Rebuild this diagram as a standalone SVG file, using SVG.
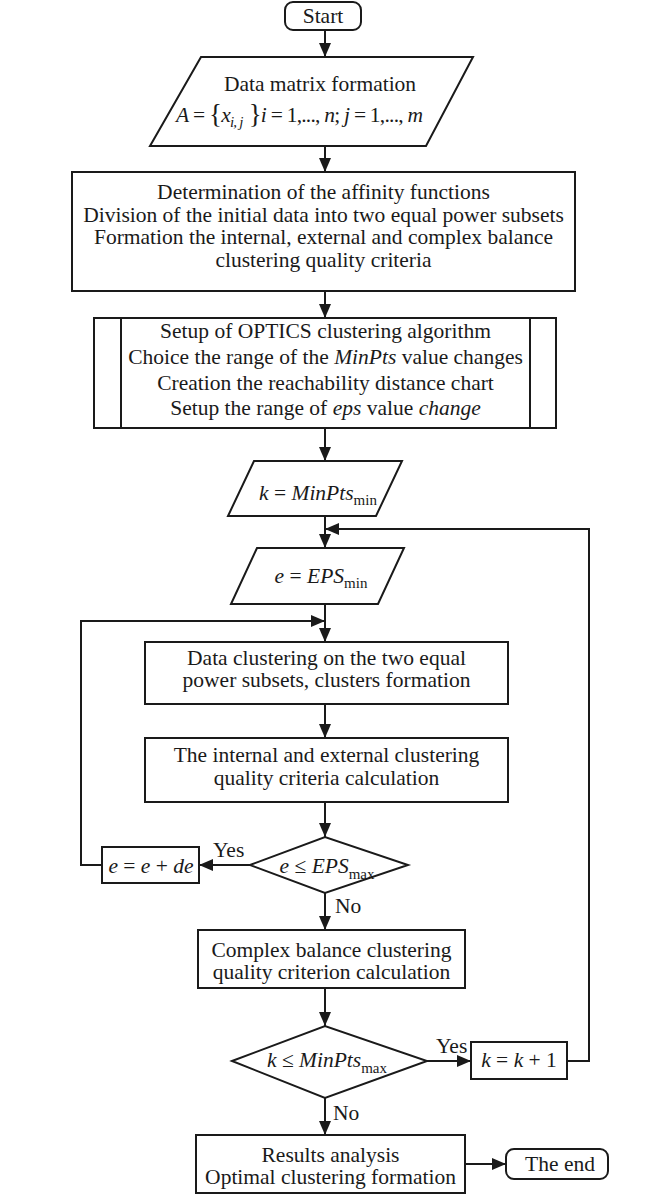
<svg xmlns="http://www.w3.org/2000/svg" width="647" height="1204" viewBox="0 0 647 1204">
<defs>
<marker id="ah" markerWidth="14" markerHeight="12" refX="14" refY="6" orient="auto" markerUnits="userSpaceOnUse"><path d="M0,0 L14,6 L0,12 z" fill="#1a1a1a"/></marker>
<style>
.s{fill:#fff;stroke:#1a1a1a;stroke-width:2}
.t{font-family:"Liberation Serif","Times New Roman",serif;font-size:21.5px;fill:#1a1a1a;text-anchor:middle}
.l{text-anchor:start}
.i{font-style:italic}
.sub{font-size:15px}
.c{fill:none;stroke:#1a1a1a;stroke-width:2;marker-end:url(#ah)}
</style>
</defs>
<rect width="647" height="1204" fill="#fff"/>
<g id="connectors">
<line class="c" x1="325" y1="30" x2="325" y2="57"/>
<line class="c" x1="325" y1="146" x2="325" y2="172"/>
<line class="c" x1="325" y1="291" x2="325" y2="318"/>
<line class="c" x1="325" y1="428" x2="325" y2="461"/>
<line class="c" x1="325" y1="516" x2="325" y2="548"/>
<polyline class="c" points="567,1061 589,1061 589,529 325,529"/>
<line class="c" x1="325" y1="604" x2="325" y2="642"/>
<polyline class="c" points="102,865 81,865 81,621 325,621"/>
<line class="c" x1="325" y1="704" x2="325" y2="738"/>
<line class="c" x1="325" y1="802" x2="325" y2="837"/>
<line class="c" x1="250" y1="865" x2="199" y2="865"/>
<line class="c" x1="325" y1="893" x2="325" y2="930"/>
<line class="c" x1="325" y1="988" x2="325" y2="1026"/>
<line class="c" x1="427" y1="1061" x2="471" y2="1061"/>
<line class="c" x1="325" y1="1098" x2="325" y2="1135"/>
<line class="c" x1="465" y1="1164" x2="506" y2="1164"/>
<text class="t l" x="213" y="857">Yes</text>
<text class="t l" x="335" y="913">No</text>
<text class="t l" x="436" y="1053">Yes</text>
<text class="t l" x="333" y="1120">No</text>
</g>
<g id="start">
<rect class="s" x="285" y="2" width="76" height="28" rx="8"/>
<text class="t" x="323" y="23">Start</text>
</g>
<g id="data-matrix">
<polygon class="s" points="201,57 473,57 426,146 150,146"/>
<text class="t" x="320" y="91">Data matrix formation</text>
<text class="t l" x="176" y="122" textLength="247" lengthAdjust="spacing"><tspan class="i">A</tspan> = <tspan font-size="27" dy="1">{</tspan><tspan class="i" dy="-1">x</tspan><tspan class="i sub" dy="5">i, j</tspan><tspan font-size="27" dy="-4"> }</tspan><tspan class="i" dy="-1">i</tspan> = 1,..., <tspan class="i">n</tspan>; <tspan class="i">j</tspan> = 1,..., <tspan class="i">m</tspan></text>
</g>
<g id="affinity">
<rect class="s" x="72" y="172" width="503" height="119"/>
<text class="t" x="323.5" y="199">Determination of the affinity functions</text>
<text class="t" x="323.5" y="221.5">Division of the initial data into two equal power subsets</text>
<text class="t" x="323.5" y="244">Formation the internal, external and complex balance</text>
<text class="t" x="323.5" y="266.5">clustering quality criteria</text>
</g>
<g id="optics">
<rect class="s" x="94" y="318" width="462" height="110"/>
<line class="s" x1="121" y1="318" x2="121" y2="428"/>
<line class="s" x1="530" y1="318" x2="530" y2="428"/>
<text class="t" x="325.5" y="338">Setup of OPTICS clustering algorithm</text>
<text class="t" x="325.5" y="364">Choice the range of the <tspan class="i">MinPts</tspan> value changes</text>
<text class="t" x="325.5" y="390">Creation the reachability distance chart</text>
<text class="t" x="325.5" y="415">Setup the range of <tspan class="i">eps</tspan> value <tspan class="i">change</tspan></text>
</g>
<g id="k-init">
<polygon class="s" points="254,461 402,461 376,516 228,516"/>
<text class="t" x="318" y="500"><tspan class="i">k</tspan> = <tspan class="i">MinPts</tspan><tspan class="sub" dy="5">min</tspan></text>
</g>
<g id="e-init">
<polygon class="s" points="257,548 404,548 378,604 231,604"/>
<text class="t" x="321" y="583"><tspan class="i">e</tspan> = <tspan class="i">EPS</tspan><tspan class="sub" dy="5">min</tspan></text>
</g>
<g id="clustering">
<rect class="s" x="145" y="642" width="363" height="62"/>
<text class="t" x="326.5" y="665">Data clustering on the two equal</text>
<text class="t" x="326.5" y="687">power subsets, clusters formation</text>
</g>
<g id="internal-external">
<rect class="s" x="145" y="738" width="363" height="64"/>
<text class="t" x="326.5" y="762">The internal and external clustering</text>
<text class="t" x="326.5" y="785">quality criteria calculation</text>
</g>
<g id="eps-check">
<polygon class="s" points="250,865 325,837 408,865 325,893"/>
<text class="t" x="327" y="873"><tspan class="i">e</tspan> ≤ <tspan class="i">EPS</tspan><tspan class="sub" dy="6">max</tspan></text>
</g>
<g id="e-increment">
<rect class="s" x="102" y="847" width="97" height="36"/>
<text class="t" x="151" y="873"><tspan class="i">e</tspan> = <tspan class="i">e</tspan> + <tspan class="i">de</tspan></text>
</g>
<g id="complex">
<rect class="s" x="198" y="930" width="267" height="58"/>
<text class="t" x="331.5" y="957">Complex balance clustering</text>
<text class="t" x="331.5" y="979">quality criterion calculation</text>
</g>
<g id="k-check">
<polygon class="s" points="232,1061 325,1026 427,1061 325,1098"/>
<text class="t" x="327" y="1067"><tspan class="i">k</tspan> ≤ <tspan class="i">MinPts</tspan><tspan class="sub" dy="6">max</tspan></text>
</g>
<g id="k-increment">
<rect class="s" x="471" y="1042" width="96" height="37"/>
<text class="t" x="519" y="1067"><tspan class="i">k</tspan> = <tspan class="i">k</tspan> + 1</text>
</g>
<g id="results">
<rect class="s" x="196" y="1135" width="269" height="58"/>
<text class="t" x="330.5" y="1162">Results analysis</text>
<text class="t" x="330.5" y="1184">Optimal clustering formation</text>
</g>
<g id="end">
<rect class="s" x="506" y="1149" width="102" height="30" rx="8"/>
<text class="t" x="560" y="1171">The end</text>
</g>
</svg>
